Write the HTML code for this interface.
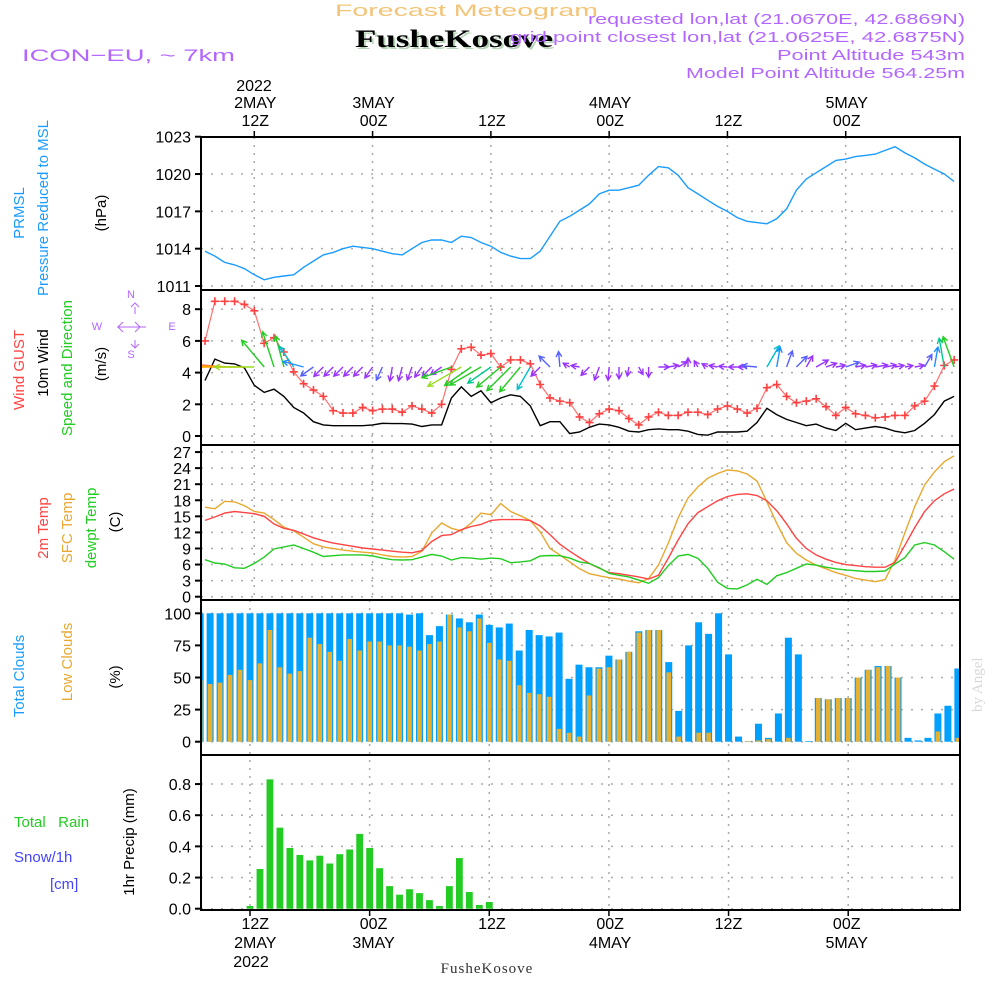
<!DOCTYPE html>
<html><head><meta charset="utf-8"><title>Meteogram FusheKosove</title>
<style>
html,body{margin:0;padding:0;background:#fff;}
svg{display:block;font-family:"Liberation Sans",sans-serif;}
</style></head>
<body>
<svg id="chart" width="1000" height="1000" viewBox="0 0 1000 1000" xmlns="http://www.w3.org/2000/svg">
  <text x="335" y="16" font-size="17" fill="#f3c478" textLength="263" lengthAdjust="spacingAndGlyphs">Forecast Meteogram</text>
  <text x="357" y="49" font-size="25" font-weight="bold" font-family="Liberation Serif,serif" fill="#b8d4b8" textLength="198" lengthAdjust="spacingAndGlyphs">FusheKosove</text>
  <text x="355" y="47" font-size="25" font-weight="bold" font-family="Liberation Serif,serif" fill="#000" textLength="198" lengthAdjust="spacingAndGlyphs">FusheKosove</text>
  <text x="22" y="61" font-size="17" fill="#b366ff" textLength="213" lengthAdjust="spacingAndGlyphs">ICON−EU, ~ 7km</text>
  <g font-size="15" fill="#b366ff">
    <text x="588" y="24" textLength="377" lengthAdjust="spacingAndGlyphs">requested lon,lat (21.0670E, 42.6869N)</text>
    <text x="510" y="42" textLength="455" lengthAdjust="spacingAndGlyphs">grid point closest lon,lat (21.0625E, 42.6875N)</text>
    <text x="777" y="60" textLength="188" lengthAdjust="spacingAndGlyphs">Point Altitude 543m</text>
    <text x="686" y="78" textLength="279" lengthAdjust="spacingAndGlyphs">Model Point Altitude 564.25m</text>
  </g>
  <g id="grid"></g>
  <g id="marks"></g>
  <g id="axes"></g>
  <g id="labels"></g>
  <text transform="translate(982,712) rotate(-90)" font-size="15" font-family="Liberation Serif,serif" fill="#d8d8d8">by Angel</text>
</svg>
<script>
// ---------- DATA (hourly, from 2MAY 07Z = hour 7 to 5MAY 11Z = hour 83) ----------
const hourStart = 7;
const pressure = [1013.8,1013.4,1012.9,1012.7,1012.4,1011.9,1011.5,1011.7,1011.8,1011.9,1012.5,1013.0,1013.5,1013.7,1014.0,1014.2,1014.1,1014.0,1013.8,1013.6,1013.5,1014.0,1014.5,1014.7,1014.7,1014.5,1015.0,1014.9,1014.5,1014.2,1013.7,1013.4,1013.2,1013.2,1013.8,1015.0,1016.2,1016.6,1017.1,1017.6,1018.4,1018.7,1018.7,1018.9,1019.1,1019.9,1020.6,1020.5,1019.9,1018.9,1018.4,1017.9,1017.4,1017.0,1016.5,1016.2,1016.1,1016.0,1016.4,1017.2,1018.7,1019.6,1020.1,1020.6,1021.1,1021.2,1021.4,1021.5,1021.6,1021.9,1022.2,1021.7,1021.3,1020.8,1020.4,1020.0,1019.4];
const gust = [6.0,8.5,8.5,8.5,8.3,7.9,5.85,6.2,5.3,4.05,3.3,2.9,2.5,1.6,1.45,1.45,1.8,1.6,1.7,1.7,1.5,1.9,1.7,1.45,2.0,4.2,5.5,5.6,5.1,5.2,4.35,4.8,4.8,4.55,3.25,2.4,2.2,2.1,1.2,0.85,1.4,1.7,1.6,1.1,0.7,1.2,1.5,1.3,1.3,1.5,1.5,1.35,1.7,1.9,1.7,1.45,1.75,3.05,3.25,2.5,2.1,2.2,2.35,1.85,1.3,1.8,1.4,1.3,1.15,1.2,1.3,1.3,1.9,2.2,3.15,4.45,4.8];
const wind10 = [3.5,4.85,4.6,4.55,4.3,3.2,2.75,2.95,2.5,1.8,1.45,0.9,0.7,0.65,0.65,0.65,0.65,0.7,0.8,0.78,0.78,0.75,0.6,0.7,0.7,2.4,3.1,2.5,2.85,2.1,2.4,2.6,2.5,1.9,0.65,0.9,0.9,0.15,0.25,0.55,0.75,0.7,0.55,0.3,0.25,0.4,0.45,0.4,0.4,0.3,0.1,0.05,0.25,0.25,0.25,0.3,0.85,1.75,1.35,1.05,0.85,0.65,0.75,0.5,0.35,0.8,0.4,0.5,0.6,0.5,0.3,0.2,0.35,0.8,1.35,2.2,2.5];
const windDir = [170,172,175,178,180,180,130,108,105,125,165,215,225,225,225,225,225,235,245,260,255,250,235,225,215,200,210,215,210,215,220,225,230,240,225,135,95,150,170,225,250,265,270,260,300,270,0,10,30,90,120,150,170,175,180,180,175,60,80,70,45,60,30,20,10,20,10,10,10,10,10,10,10,60,80,100,110];
const temp2m = [14.25,14.87,15.6,15.9,15.7,15.5,15.0,13.57,12.76,12.4,11.7,11.0,10.45,10.0,9.7,9.4,9.1,8.9,8.7,8.5,8.3,8.2,8.6,10.3,11.4,11.6,12.5,13.1,13.5,14.25,14.4,14.4,14.4,14.2,13.2,11.6,9.8,8.5,7.3,6.2,5.3,4.5,4.3,4.0,3.7,3.3,4.0,7.2,10.6,13.6,15.7,16.8,17.9,18.7,19.1,19.2,18.9,17.9,16.05,13.6,10.9,9.0,7.8,7.0,6.4,6.0,5.8,5.6,5.5,5.5,6.4,9.6,12.9,15.9,17.9,19.2,20.1];
const tempSfc = [16.7,16.4,17.8,17.7,17.0,15.9,15.6,14.4,13.0,12.3,11.1,9.9,9.3,9.0,8.7,8.5,8.3,8.15,7.8,7.5,7.4,7.5,8.5,11.9,13.75,12.76,12.3,13.75,15.6,15.3,17.4,15.9,15.1,14.2,12.1,9.0,7.8,6.5,5.2,4.3,3.9,3.55,3.3,2.9,2.6,3.4,5.9,10.0,14.75,18.4,20.5,22.1,23.0,23.65,23.5,22.9,21.6,17.7,13.7,10.1,8.1,6.85,5.9,5.2,4.5,4.0,3.4,3.1,2.8,3.2,6.85,11.95,16.8,20.85,23.3,25.2,26.3];
const dewpt = [6.9,6.3,6.1,5.4,5.3,6.2,7.4,8.9,9.3,9.65,9.0,8.3,7.5,7.65,7.8,7.8,7.8,7.6,7.2,6.9,6.85,6.9,7.4,7.9,7.6,6.85,7.3,7.2,7.0,7.2,7.1,6.35,6.5,6.7,7.6,7.7,7.65,7.2,6.5,6.2,5.4,4.35,4.0,3.7,3.1,2.5,3.55,5.8,7.6,7.9,7.15,5.3,2.7,1.55,1.45,2.2,3.25,2.3,3.9,4.5,5.3,6.1,5.9,5.5,5.2,5.0,4.85,4.7,4.7,4.8,6.1,7.3,9.65,10.1,9.65,8.4,7.0];
const totalClouds = [100,100,100,100,100,100,100,100,100,100,100,100,100,100,100,100,100,100,100,100,100,99,100,83,90,99,96,93,99,91,89,92,71,87,83,82,85,49,60,58,58,67,64,70,86,87,87,62,24,75,93,84,100,68,4,0.5,14,3,22,81,68,0.5,34,33,34,34,50,56,59,59,50,3,1,3,22,28,57];
const lowClouds = [48,45,46,52,56,48,61,87,58,53,55,81,76,70,63,80,71,78,78,75,75,74,71,76,78,99,89,86,96,77,64,63,44,38,37,35,10,7,4,36,57,58,64,70,85,87,87,54,4,0,7,7,0,0,0,0.5,1,2,0,3,0,0,34,33,34,34,50,56,58,59,50,0,0,0,8,0,3];
const rainHours = [12,13,14,15,16,17,18,19,20,21,22,23,24,25,26,27,28,29,30,31,32,33,34,35,36];
const rainValues = [0.017,0.255,0.83,0.52,0.39,0.345,0.31,0.34,0.29,0.35,0.38,0.48,0.39,0.26,0.145,0.09,0.125,0.1,0.055,0.017,0.145,0.325,0.107,0.024,0.043];
const pTicks = [1011,1014,1017,1020,1023];
const wTicks = [0,2,4,6,8];
const tTicks = [0,3,6,9,12,15,18,21,24,27];
const cTicks = [0,25,50,75,100];
const rTicks = [0,0.2,0.4,0.6,0.8];
const timeTicks = [12,24,36,48,60,72];
const timeHourLabels = ["12Z","00Z","12Z","00Z","12Z","00Z"];
const timeDayLabels = ["2MAY","3MAY","","4MAY","","5MAY"];

// ---------- SCALES ----------
const X0 = 201, X1 = 960;
const xl = h => 254.3 + (h - 12) * 9.857;   // line panels
const xb = h => 250 + (h - 12) * 9.97;      // bar panels
const yP = v => 286 - (v - 1011) * 12.44;
const yW = v => 436 - v * 15.85;
const yT = v => 596.7 - v * 5.357;
const yC = v => 741.7 - v * 1.284;
const yR = v => 908.7 - v * 155.8;
const panels = [[137,290],[290,445],[445,600],[600,755],[755,910]];

const NS = "http://www.w3.org/2000/svg";
const G = document.getElementById('grid'), M = document.getElementById('marks'), A = document.getElementById('axes'), L = document.getElementById('labels');
function mk(tag, parent, attrs) { const e = document.createElementNS(NS, tag); for (const k in attrs) e.setAttribute(k, attrs[k]); parent.appendChild(e); return e; }

const defs = mk('defs', document.getElementById('chart'), {});
const cp = mk('clipPath', defs, {id: 'plotclip'});
mk('rect', cp, {x: X0, y: 137, width: X1 - X0, height: 773});

// ---------- GRID ----------
function hgrid(ticks, yf) {
  ticks.forEach(t => {
    const ln = mk('line', G, {x1: X0, x2: X1, y1: yf(t), y2: yf(t), stroke: '#aaa', 'stroke-width': 1.5, 'stroke-dasharray': '2,8'});
    
    
  });
}
hgrid(pTicks, yP); hgrid(wTicks, yW); hgrid(tTicks, yT); hgrid(cTicks, yC); hgrid(rTicks, yR);
timeTicks.forEach(h => {
  [[137,600,xl],[600,910,xb]].forEach(([a,b,f]) => {
    const ln = mk('line', G, {x1: f(h), x2: f(h), y1: a, y2: b, stroke: '#aaa', 'stroke-width': 1.5, 'stroke-dasharray': '2,6'});
    
    
  });
});

// ---------- MARKS ----------
const clipG = mk('g', M, {'clip-path': 'url(#plotclip)'});
function line(arr, yf, color, name, w) {
  const pts = arr.map((v, i) => xl(hourStart + i).toFixed(1) + ',' + yf(v).toFixed(1)).join(' ');
  const pl = mk('polyline', clipG, {points: pts, fill: 'none', stroke: color, 'stroke-width': w || 1.4});
  
  
}
line(pressure, yP, '#1a9cff', 'pressure-line');
totalClouds.forEach((v, i) => {
  const h = hourStart + i;
  const r = mk('rect', clipG, {x: xb(h) - 3.5, y: yC(v), width: 7, height: yC(0) - yC(v), fill: '#00a0ff'});
  
  
});
lowClouds.forEach((v, i) => {
  const h = hourStart + i;
  const r = mk('rect', clipG, {x: xb(h) - 2.3, y: yC(v), width: 4.6, height: yC(0) - yC(v), fill: '#e8b030'});
  
  
});
rainValues.forEach((v, i) => {
  const h = rainHours[i];
  const r = mk('rect', clipG, {x: xb(h) - 3.4, y: yR(v), width: 6.8, height: yR(0) - yR(v), fill: '#22cc22'});
  
  
});
line(tempSfc, yT, '#e8a830', 'sfc-temp-line');
line(temp2m, yT, '#ff4444', '2m-temp-line');
line(dewpt, yT, '#22cc22', 'dewpoint-line');
line(wind10, yW, '#000', 'wind-10m-line');
line(gust, yW, '#ff7070', 'gust-line', 1.2);
gust.forEach((v, i) => {
  const x = xl(hourStart + i), y = yW(v);
  const p = mk('path', clipG, {d: `M${x-4},${y}H${x+4}M${x},${y-4}V${y+4}`, stroke: '#ff4040', 'stroke-width': 1.6});
  
  
});
function windColor(s) {
  if (s < 0.8) return '#9933ff'; if (s < 1.2) return '#5560ff'; if (s < 1.6) return '#1e90ff';
  if (s < 2.0) return '#00c0d0'; if (s < 2.3) return '#00c890'; if (s < 3.0) return '#22cc22';
  if (s < 3.5) return '#99dd22'; if (s < 4.0) return '#e6d000'; if (s < 4.6) return '#ffa500'; return '#ff5060';
}
windDir.forEach((d, i) => {
  const s = wind10[i], x = xl(hourStart + i), y = 367;
  const len = 6 + s * 10.5, a = d * Math.PI / 180;
  const ex = x + len * Math.cos(a), ey = y - len * Math.sin(a);
  const hl = 6;
  const a1 = a + Math.PI - 0.5, a2 = a + Math.PI + 0.5;
  const dstr = `M${x.toFixed(1)},${y}L${ex.toFixed(1)},${ey.toFixed(1)}M${(ex+hl*Math.cos(a1)).toFixed(1)},${(ey-hl*Math.sin(a1)).toFixed(1)}L${ex.toFixed(1)},${ey.toFixed(1)}L${(ex+hl*Math.cos(a2)).toFixed(1)},${(ey-hl*Math.sin(a2)).toFixed(1)}`;
  const p = mk('path', clipG, {d: dstr, stroke: windColor(s), 'stroke-width': 1.4, fill: 'none'});
  
  
});

// ---------- AXES / FRAME ----------
panels.forEach(([a, b]) => {
  const r = mk('rect', A, {x: X0, y: a, width: X1 - X0, height: b - a, fill: 'none', stroke: '#000', 'stroke-width': 2});
  
  
});
function yAxis(ticks, yf, fmt) {
  ticks.forEach(t => {
    const tk = mk('line', A, {x1: X0 - 6, x2: X0, y1: yf(t), y2: yf(t), stroke: '#000', 'stroke-width': 2});
    
    
    const tx = mk('text', L, {x: X0 - 10, y: yf(t) + 6, 'font-size': 16, 'text-anchor': 'end', fill: '#000'});
    tx.textContent = fmt ? fmt(t) : String(t);
    
    
  });
}
yAxis(pTicks, yP); yAxis(wTicks, yW); yAxis(tTicks, yT); yAxis(cTicks, yC); yAxis(rTicks, yR, t => t.toFixed(1));
timeTicks.forEach((h, i) => {
  const tt = mk('line', A, {x1: xl(h), x2: xl(h), y1: 131, y2: 137, stroke: '#000', 'stroke-width': 1.5});
  
  
  const bt = mk('line', A, {x1: xb(h), x2: xb(h), y1: 910, y2: 916, stroke: '#000', 'stroke-width': 1.5});
  
  
  const cx = xl(h) + 1;
  const t1 = mk('text', L, {x: cx, y: 126, 'font-size': 16, 'text-anchor': 'middle', fill: '#000'});
  t1.textContent = timeHourLabels[i];
  
  
  const b1 = mk('text', L, {x: cx, y: 929, 'font-size': 16, 'text-anchor': 'middle', fill: '#000'});
  b1.textContent = timeHourLabels[i];
  
  
  if (timeDayLabels[i]) {
    const t2 = mk('text', L, {x: cx, y: 108, 'font-size': 16, 'text-anchor': 'middle', fill: '#000'});
    t2.textContent = timeDayLabels[i];
    
    
    const b2 = mk('text', L, {x: cx, y: 948, 'font-size': 16, 'text-anchor': 'middle', fill: '#000'});
    b2.textContent = timeDayLabels[i];
    
    
  }
});
</script>
<div style="position:absolute;left:0;top:0;width:1000px;height:1000px;pointer-events:none;">
<svg width="1000" height="1000" style="position:absolute;left:0;top:0" font-family="Liberation Sans, sans-serif">
  <text x="254" y="91" font-size="16" text-anchor="middle">2022</text>
  <text x="251" y="967" font-size="16" text-anchor="middle">2022</text>
  <text x="487" y="973" font-size="15" font-family="Liberation Serif,serif" fill="#333" text-anchor="middle" letter-spacing="1">FusheKosove</text>
  <g font-size="15">
    <text transform="translate(24,213) rotate(-90)" fill="#1a9cff" text-anchor="middle">PRMSL</text>
    <text transform="translate(48,208) rotate(-90)" fill="#1a9cff" text-anchor="middle">Pressure Reduced to MSL</text>
    <text transform="translate(106,213) rotate(-90)" fill="#000" text-anchor="middle">(hPa)</text>
    <text transform="translate(24,370) rotate(-90)" fill="#ff4444" text-anchor="middle">Wind GUST</text>
    <text transform="translate(48,363) rotate(-90)" fill="#000" text-anchor="middle">10m Wind</text>
    <text transform="translate(72,368) rotate(-90)" fill="#22cc22" text-anchor="middle">Speed and Direction</text>
    <text transform="translate(106,364) rotate(-90)" fill="#000" text-anchor="middle">(m/s)</text>
    <text transform="translate(48,528) rotate(-90)" fill="#ff4444" text-anchor="middle">2m Temp</text>
    <text transform="translate(72,528) rotate(-90)" fill="#e8a830" text-anchor="middle">SFC Temp</text>
    <text transform="translate(96,528) rotate(-90)" fill="#22cc22" text-anchor="middle">dewpt Temp</text>
    <text transform="translate(120,522) rotate(-90)" fill="#000" text-anchor="middle">(C)</text>
    <text transform="translate(24,676) rotate(-90)" fill="#1a9cff" text-anchor="middle">Total Clouds</text>
    <text transform="translate(72,662) rotate(-90)" fill="#e8a830" text-anchor="middle">Low Clouds</text>
    <text transform="translate(120,677) rotate(-90)" fill="#000" text-anchor="middle">(%)</text>
    <text transform="translate(134,842) rotate(-90)" fill="#000" text-anchor="middle">1hr Precip (mm)</text>
    <text x="14" y="827" fill="#22cc22" xml:space="preserve">Total   Rain</text>
    <text x="14" y="862" fill="#4444ff">Snow/1h</text>
    <text x="50" y="889" fill="#4444ff">[cm]</text>
  </g>
  <g fill="#b366ff" stroke="#b366ff" font-size="11">
    <text x="131" y="298" stroke="none" text-anchor="middle">N</text>
    <text x="131" y="358" stroke="none" text-anchor="middle">S</text>
    <text x="97" y="330" stroke="none" text-anchor="middle">W</text>
    <text x="172" y="330" stroke="none" text-anchor="middle">E</text>
    <path d="M117,327H146M135,322L140,327L135,332M123,322L118,327L123,332M135,314L135,307M135,340L135,348M131,307L135,303L139,307M131,344L135,348L139,344" fill="none" stroke-width="1"/>
  </g>
</svg>
</div>
</body></html>
